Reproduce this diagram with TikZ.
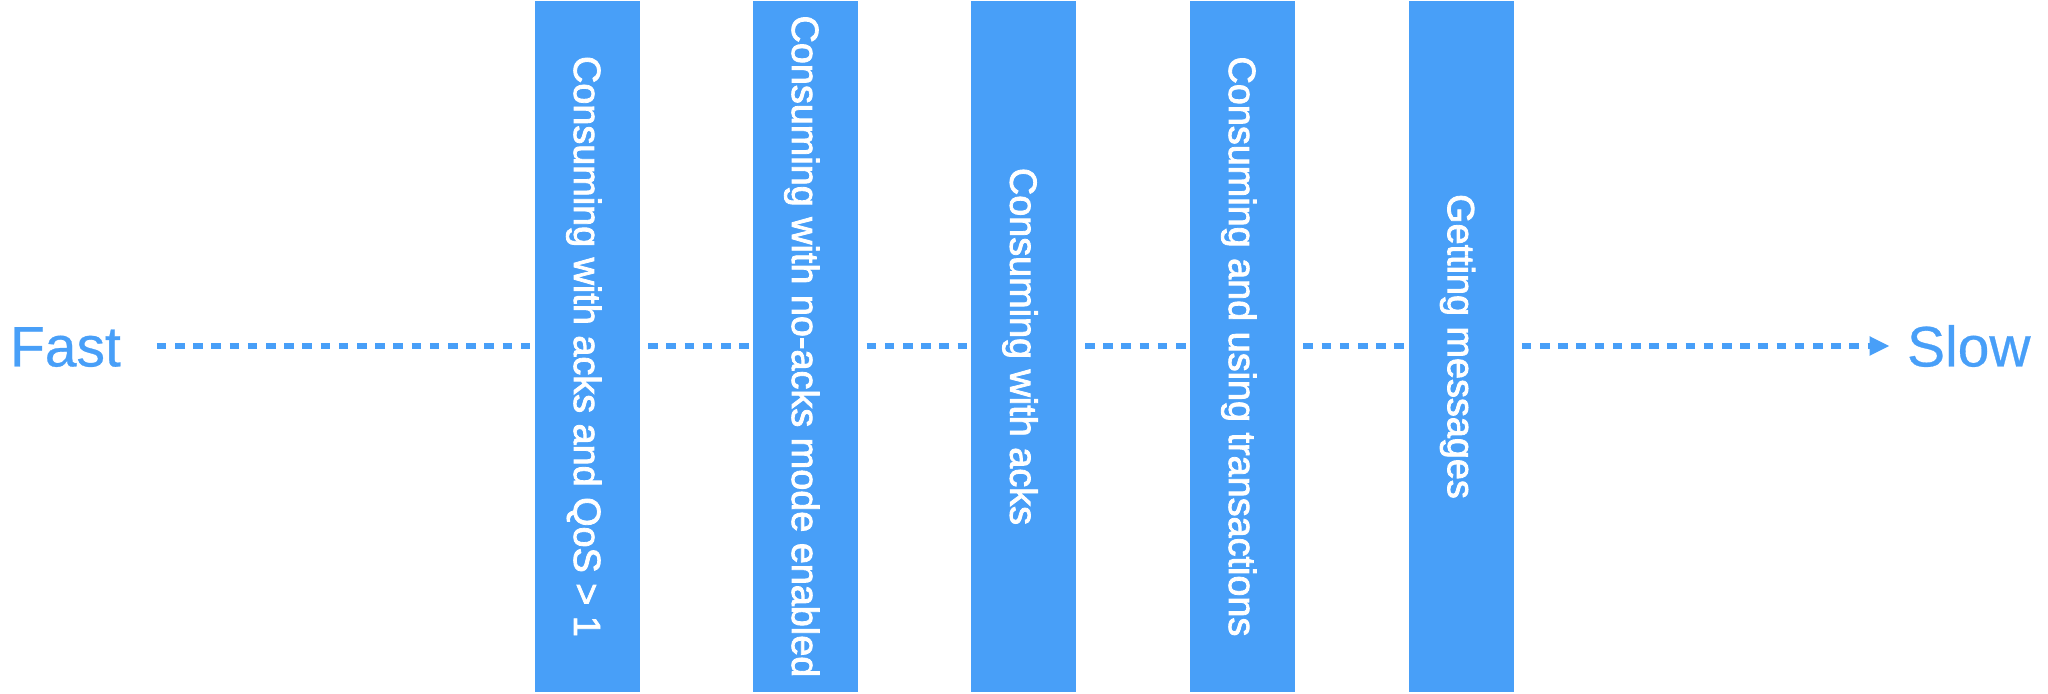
\documentclass[tikz,border=0pt]{standalone}
\usepackage{fontspec}
\setmainfont{Liberation Sans}
\newfontfamily\barfont[FakeBold=2.2]{Liberation Sans}
\newfontfamily\endfont[FakeBold=0.5]{Liberation Sans}
\usetikzlibrary{arrows.meta,backgrounds}
\definecolor{flowblue}{RGB}{72,159,248}
\tikzset{
  bar/.style={rotate=-90, fill=flowblue, draw=none, text=white, inner sep=0pt, outer sep=0pt,
    minimum width=345.5pt, minimum height=52.75pt,
    font=\barfont\fontsize{18.9pt}{20pt}\selectfont, text height=13.5pt, text depth=0pt},
  endlabel/.style={text=flowblue, inner sep=0pt, outer sep=0pt,
    font=\endfont\fontsize{28.5pt}{30pt}\selectfont, text height=20.4pt, text depth=0pt},
  flow/.style={draw=flowblue, line width=2.7pt, dash pattern=on 4.8pt off 4.3pt,
    -{Triangle[length=10pt,width=9pt]}, shorten <=18pt, shorten >=8.7pt}
}
\begin{document}
\begin{tikzpicture}[x=0.5pt,y=-0.5pt]
\useasboundingbox (0,0) rectangle (2048,694);
\node[endlabel, anchor=west] (fast) at (10,346) {Fast};
\node[endlabel, anchor=west] (slow) at (1907,346) {Slow};
\node[bar] (b1) at (587.5,346.5) {Consuming with acks and QoS > 1};
\node[bar] (b2) at (805.5,346.5) {Consuming with no-acks mode enabled};
\node[bar] (b3) at (1023.7,346.5) {Consuming with acks};
\node[bar] (b4) at (1242.5,346.5) {Consuming and using transactions};
\node[bar] (b5) at (1461.3,346.5) {Getting messages};
\begin{scope}[on background layer]
\draw[flow] (fast) -- (slow);
\end{scope}
\end{tikzpicture}
\end{document}
